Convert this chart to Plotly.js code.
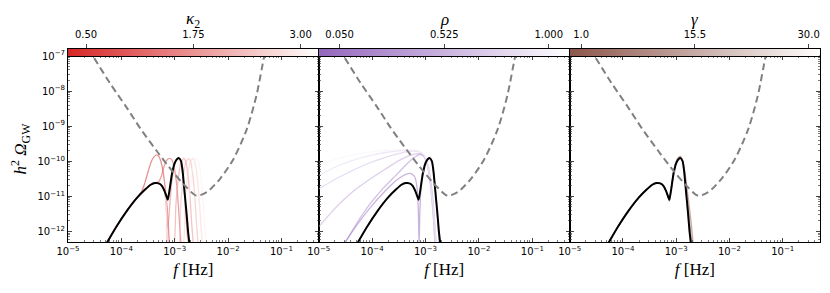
<!DOCTYPE html>
<html><head><meta charset="utf-8">
<script src="https://cdn.plot.ly/plotly-3.0.1.min.js"></script>
<style>html,body{margin:0;padding:0;background:#fff}#chart{width:830px;height:293px}</style>
</head><body><div id="chart"></div><script>
// ---------- data (log10 values) ----------
// dashed sensitivity curve
const sensLogF = [-4.62, -4.53, -4.22, -3.90, -3.655, -3.34, -3.03, -2.78, -2.59, -2.40, -2.15, -1.90, -1.65, -1.47, -1.32, -1.29];
const sensLogO = [-6.80, -7.01, -7.76, -8.47, -9.04, -9.70, -10.31, -10.74, -10.98, -10.88, -10.50, -9.94, -9.09, -8.14, -7.00, -6.85];

// black reference spectrum
const blackLogF = [-4.30, -4.10, -3.90, -3.70, -3.55, -3.45, -3.37, -3.30, -3.24, -3.19, -3.15, -3.13, -3.10, -3.05, -3.00, -2.95, -2.92, -2.88, -2.85, -2.82, -2.78, -2.75, -2.72];
const blackLogO = [-12.40, -11.88, -11.42, -11.03, -10.80, -10.67, -10.62, -10.63, -10.70, -10.85, -11.02, -11.10, -10.85, -10.35, -10.05, -9.93, -9.91, -10.00, -10.30, -10.80, -11.45, -12.00, -12.40];

// kappa2 curves
const kappaVals = [0.50, 0.917, 1.333, 1.75, 2.167, 2.583, 3.00];
const kappaLogF = [
  [-4.30, -4.10, -3.90, -3.70, -3.62, -3.56, -3.50, -3.43, -3.38, -3.34, -3.29, -3.24, -3.19, -3.15, -3.12, -3.10],
  [-4.30, -4.10, -3.90, -3.70, -3.55, -3.45, -3.37, -3.30, -3.25, -3.20, -3.15, -3.10, -3.05, -3.00, -2.96, -2.93, -2.90, -2.88],
  [-4.30, -4.10, -3.90, -3.70, -3.55, -3.45, -3.37, -3.30, -3.24, -3.19, -3.15, -3.13, -3.11, -3.06, -3.00, -2.95, -2.91, -2.87, -2.83, -2.80, -2.77, -2.75],
  [-4.30, -4.10, -3.90, -3.70, -3.55, -3.45, -3.37, -3.30, -3.24, -3.19, -3.15, -3.13, -3.02, -2.98, -2.93, -2.88, -2.83, -2.79, -2.75, -2.71, -2.68, -2.65],
  [-4.30, -4.10, -3.90, -3.70, -3.55, -3.45, -3.37, -3.30, -3.24, -3.19, -3.15, -3.13, -2.93, -2.89, -2.84, -2.79, -2.74, -2.70, -2.66, -2.62, -2.59, -2.56],
  [-4.30, -4.10, -3.90, -3.70, -3.55, -3.45, -3.37, -3.30, -3.24, -3.19, -3.15, -3.13, -2.85, -2.81, -2.76, -2.71, -2.66, -2.62, -2.58, -2.54, -2.51, -2.48],
  [-4.30, -4.10, -3.90, -3.70, -3.55, -3.45, -3.37, -3.30, -3.24, -3.19, -3.15, -3.13, -2.78, -2.74, -2.69, -2.64, -2.59, -2.55, -2.51, -2.47, -2.44, -2.41]
];
const kappaLogO = [
  [-12.40, -11.88, -11.42, -11.03, -10.86, -10.62, -10.30, -9.98, -9.86, -9.82, -9.88, -10.12, -10.60, -11.20, -11.80, -12.40],
  [-12.40, -11.88, -11.42, -11.03, -10.80, -10.67, -10.62, -10.58, -10.42, -10.15, -9.97, -9.92, -9.97, -10.25, -10.70, -11.30, -12.00, -12.40],
  [-12.40, -11.88, -11.42, -11.03, -10.80, -10.67, -10.62, -10.63, -10.70, -10.85, -11.30, -11.90, -11.60, -10.65, -10.10, -9.93, -9.93, -10.15, -10.65, -11.30, -12.00, -12.40],
  [-12.40, -11.88, -11.42, -11.03, -10.80, -10.67, -10.62, -10.63, -10.70, -10.85, -11.50, -12.40, -12.40, -11.30, -10.45, -10.02, -9.92, -10.02, -10.40, -11.10, -11.80, -12.40],
  [-12.40, -11.88, -11.42, -11.03, -10.80, -10.67, -10.62, -10.63, -10.70, -10.85, -11.50, -12.40, -12.40, -11.30, -10.45, -10.02, -9.92, -10.02, -10.40, -11.10, -11.80, -12.40],
  [-12.40, -11.88, -11.42, -11.03, -10.80, -10.67, -10.62, -10.63, -10.70, -10.85, -11.50, -12.40, -12.40, -11.30, -10.45, -10.02, -9.92, -10.02, -10.40, -11.10, -11.80, -12.40],
  [-12.40, -11.88, -11.42, -11.03, -10.80, -10.67, -10.62, -10.63, -10.70, -10.85, -11.50, -12.40, -12.40, -11.30, -10.45, -10.02, -9.92, -10.02, -10.40, -11.10, -11.80, -12.40]
];

// rho curves
const rhoVals = [0.05, 0.24, 0.43, 0.62, 0.81, 1.00];
const rhoLogF = [
  [-4.55, -4.30, -4.05, -3.80, -3.55, -3.38, -3.27, -3.20, -3.16, -3.135, -3.12, -3.105, -3.08, -3.03, -2.98, -2.93, -2.89, -2.85, -2.81, -2.77, -2.74],
  [-4.53, -4.30, -4.06, -3.80, -3.56, -3.35, -3.20, -3.10, -3.02, -2.95, -2.89, -2.84, -2.80],
  [-5.00, -4.70, -4.375, -4.05, -3.75, -3.50, -3.30, -3.15, -3.05, -2.97, -2.91, -2.86, -2.82],
  [-5.00, -4.70, -4.375, -4.05, -3.75, -3.50, -3.30, -3.15, -3.05, -2.97, -2.91, -2.86, -2.82],
  [-5.00, -4.70, -4.375, -4.05, -3.75, -3.50, -3.30, -3.15, -3.05, -2.97, -2.91, -2.86, -2.81],
  [-5.00, -4.70, -4.375, -4.05, -3.75, -3.50, -3.30, -3.15, -3.05, -2.97, -2.91, -2.85, -2.80]
];
const rhoLogO = [
  [-12.40, -11.85, -11.35, -10.92, -10.55, -10.38, -10.35, -10.45, -10.75, -11.40, -12.40, -11.40, -10.65, -10.15, -9.95, -9.90, -10.00, -10.30, -10.90, -11.70, -12.40],
  [-12.40, -11.80, -11.26, -10.78, -10.41, -10.08, -9.88, -9.80, -9.86, -10.15, -10.70, -11.50, -12.40],
  [-11.87, -11.35, -10.88, -10.52, -10.22, -9.98, -9.84, -9.78, -9.83, -10.10, -10.65, -11.45, -12.40],
  [-10.79, -10.52, -10.27, -10.05, -9.89, -9.78, -9.71, -9.72, -9.80, -10.08, -10.62, -11.42, -12.40],
  [-10.41, -10.17, -9.98, -9.84, -9.75, -9.70, -9.69, -9.71, -9.79, -10.06, -10.60, -11.40, -12.40],
  [-10.10, -9.95, -9.82, -9.74, -9.69, -9.67, -9.68, -9.71, -9.78, -10.05, -10.58, -11.38, -12.40]
];

// gamma curves
const gammaVals = [1.0, 6.8, 12.6, 18.4, 24.2, 30.0];
const gammaLogF = [
  [-4.30, -4.10, -3.90, -3.70, -3.55, -3.45, -3.37, -3.30, -3.24, -3.19, -3.15, -3.13, -3.10, -3.05, -3.00, -2.95, -2.92, -2.87, -2.82, -2.77, -2.72, -2.68],
  [-4.30, -4.10, -3.90, -3.70, -3.55, -3.45, -3.37, -3.30, -3.24, -3.19, -3.15, -3.13, -3.10, -3.05, -3.00, -2.95, -2.92, -2.88, -2.83, -2.78, -2.74, -2.70],
  [-4.30, -4.10, -3.90, -3.70, -3.55, -3.45, -3.37, -3.30, -3.24, -3.19, -3.15, -3.13, -3.10, -3.05, -3.00, -2.95, -2.92, -2.88, -2.84, -2.80, -2.76, -2.72],
  [-4.30, -4.10, -3.90, -3.70, -3.55, -3.45, -3.37, -3.30, -3.24, -3.19, -3.15, -3.13, -3.10, -3.05, -3.00, -2.95, -2.92, -2.88, -2.84, -2.80, -2.76, -2.72],
  [-4.30, -4.10, -3.90, -3.70, -3.55, -3.45, -3.37, -3.30, -3.24, -3.19, -3.15, -3.13, -3.10, -3.05, -3.00, -2.95, -2.92, -2.88, -2.85, -2.81, -2.77, -2.73],
  [-4.30, -4.10, -3.90, -3.70, -3.55, -3.45, -3.37, -3.30, -3.24, -3.19, -3.15, -3.13, -3.10, -3.05, -3.00, -2.95, -2.92, -2.88, -2.85, -2.81, -2.77, -2.73]
];
const gammaLogO = [
  [-12.40, -11.88, -11.42, -11.03, -10.80, -10.67, -10.62, -10.63, -10.70, -10.85, -11.02, -11.14, -10.85, -10.32, -10.00, -9.88, -9.86, -10.05, -10.50, -11.10, -11.75, -12.40],
  [-12.40, -11.88, -11.42, -11.03, -10.80, -10.67, -10.62, -10.63, -10.70, -10.85, -11.02, -11.13, -10.85, -10.33, -10.02, -9.90, -9.88, -10.00, -10.50, -11.20, -11.85, -12.40],
  [-12.40, -11.88, -11.42, -11.03, -10.80, -10.67, -10.62, -10.63, -10.70, -10.85, -11.02, -11.12, -10.85, -10.34, -10.03, -9.91, -9.89, -10.00, -10.45, -11.10, -11.80, -12.40],
  [-12.40, -11.88, -11.42, -11.03, -10.80, -10.67, -10.62, -10.63, -10.70, -10.85, -11.02, -11.11, -10.85, -10.35, -10.04, -9.92, -9.90, -10.00, -10.45, -11.10, -11.80, -12.40],
  [-12.40, -11.88, -11.42, -11.03, -10.80, -10.67, -10.62, -10.63, -10.70, -10.85, -11.02, -11.10, -10.85, -10.35, -10.05, -9.93, -9.91, -10.00, -10.35, -10.95, -11.65, -12.40],
  [-12.40, -11.88, -11.42, -11.03, -10.80, -10.67, -10.62, -10.63, -10.70, -10.85, -11.02, -11.10, -10.85, -10.35, -10.05, -9.93, -9.91, -10.00, -10.35, -10.95, -11.65, -12.40]
];

// colorbar settings (tick labels and extents)
const kappaTicks = [0.50, 1.75, 3.00], kappaTickText = ['0.50', '1.75', '3.00'], kappaRange = [0.29, 3.21];
const rhoTicks = [0.05, 0.525, 1.0], rhoTickText = ['0.050', '0.525', '1.000'], rhoRange = [-0.045, 1.095];
const gammaTicks = [1.0, 15.5, 30.0], gammaTickText = ['1.0', '15.5', '30.0'], gammaRange = [-0.45, 31.45];
const cbTitles = ['<i>κ</i><sub>2</sub>', '<i>ρ</i>', '<i>γ</i>'];

const xTickVals = [1e-5, 1e-4, 1e-3, 1e-2, 1e-1];
const xTickText = ['10<sup>−5</sup>', '10<sup>−4</sup>', '10<sup>−3</sup>', '10<sup>−2</sup>', '10<sup>−1</sup>'];
const yTickVals = [1e-12, 1e-11, 1e-10, 1e-9, 1e-8, 1e-7];
const yTickText = ['10<sup>−12</sup>', '10<sup>−11</sup>', '10<sup>−10</sup>', '10<sup>−9</sup>', '10<sup>−8</sup>', '10<sup>−7</sup>'];

// ---------- build ----------
const pow10 = a => a.map(v => Math.pow(10, v));
const RED = [214, 39, 40], PURPLE = [148, 103, 189], BROWN = [140, 86, 75];
function cmap(base, v, range) {
  const t = Math.min(1, Math.max(0, (v - range[0]) / (range[1] - range[0])));
  const c = base.map(b => Math.round(b + (255 - b) * t));
  return `rgb(${c[0]},${c[1]},${c[2]})`;
}
function cscale(base) { return [[0, `rgb(${base.join(',')})`], [1, 'rgb(255,255,255)']]; }

const traces = [];
const panels = [
  {xa: 'x', ya: 'y', vals: kappaVals, lf: kappaLogF, lo: kappaLogO, base: RED, range: kappaRange, op: 0.55},
  {xa: 'x2', ya: 'y2', vals: rhoVals, lf: rhoLogF, lo: rhoLogO, base: PURPLE, range: rhoRange, op: 0.55},
  {xa: 'x3', ya: 'y3', vals: gammaVals, lf: gammaLogF, lo: gammaLogO, base: BROWN, range: gammaRange, op: 0.5}
];
panels.forEach(p => {
  p.vals.forEach((v, i) => {
    traces.push({x: pow10(p.lf[i]), y: pow10(p.lo[i]), xaxis: p.xa, yaxis: p.ya, mode: 'lines',
      line: {color: cmap(p.base, v, p.range), width: 1.3, shape: 'spline', smoothing: 0.5}, opacity: p.op,
      hoverinfo: 'skip', showlegend: false});
  });
  traces.push({x: pow10(blackLogF), y: pow10(blackLogO), xaxis: p.xa, yaxis: p.ya, mode: 'lines',
    line: {color: 'black', width: 2, shape: 'spline', smoothing: 0.5}, showlegend: false});
  traces.push({x: pow10(sensLogF), y: pow10(sensLogO), xaxis: p.xa, yaxis: p.ya, mode: 'lines',
    line: {color: 'rgb(128,128,128)', width: 2, dash: '7px,4px', shape: 'spline', smoothing: 0.8}, showlegend: false});
});
// colorbars as heatmaps
const cbStops = [[0, 1]];
[[kappaRange, RED, 'x4', 'y4'], [rhoRange, PURPLE, 'x5', 'y5'], [gammaRange, BROWN, 'x6', 'y6']].forEach(c => {
  traces.push({type: 'heatmap', x: c[0], y: [0], z: cbStops, zmin: 0, zmax: 1, zsmooth: 'best',
    colorscale: cscale(c[1]), showscale: false, xaxis: c[2], yaxis: c[3], hoverinfo: 'skip'});
});

const W = 752, yTop = 1 - 7 / 193;
const doms = [[0, 250.7 / W], [250.7 / W, 501.7 / W], [501.7 / W, 1]];
const axFont = {family: 'DejaVu Sans, sans-serif', size: 10, color: 'black'};
const mathFont = {family: 'Liberation Serif, serif', size: 17, color: 'black'};
function xax(i, anchor) {
  return {domain: doms[i], anchor: anchor, type: 'log', range: [-5, Math.log10(0.5)],
    tickmode: 'array', tickvals: xTickVals, ticktext: xTickText, ticks: 'inside', ticklen: 4, tickwidth: 1,
    minor: {ticks: 'inside', ticklen: 2, tickwidth: 0.7, dtick: 'D1', showgrid: false},
    showline: true, linecolor: 'black', linewidth: 1, mirror: 'allticks', showgrid: false, zeroline: false,
    tickfont: axFont,
    title: {text: '<i>f</i> [Hz]', font: mathFont, standoff: 7}};
}
function yax(i, anchor, labels) {
  const a = {domain: [0, yTop], anchor: anchor, type: 'log', range: [Math.log10(5e-13), -7],
    tickmode: 'array', tickvals: yTickVals, ticktext: yTickText, ticks: 'inside', ticklen: 4, tickwidth: 1,
    minor: {ticks: 'inside', ticklen: 2, tickwidth: 0.7, dtick: 'D1', showgrid: false},
    showline: true, linecolor: 'black', linewidth: 1, mirror: 'allticks', showgrid: false, zeroline: false,
    showticklabels: labels, tickfont: axFont};
  if (labels) a.title = {text: '<i>h</i><sup>2</sup> <i>Ω</i><sub>GW</sub>', font: mathFont, standoff: 6};
  return a;
}
function cbx(i, anchor, range, tv, tt) {
  return {domain: doms[i], anchor: anchor, range: range, side: 'top', tickmode: 'array', tickvals: tv, ticktext: tt,
    ticks: 'outside', ticklen: 4, tickwidth: 1, ticklabelstandoff: 2, showline: true, linecolor: 'black', linewidth: 1, mirror: true,
    showgrid: false, zeroline: false, tickfont: axFont, fixedrange: true};
}
function cby(anchor) {
  return {domain: [yTop, 1], anchor: anchor, range: [-0.5, 0.5], showticklabels: false, ticks: '', showline: true,
    linecolor: 'black', linewidth: 1, mirror: true, showgrid: false, zeroline: false, fixedrange: true};
}
const annotations = cbTitles.map((t, i) => ({text: t, xref: 'paper', yref: 'paper',
  x: (doms[i][0] + doms[i][1]) / 2, y: 1 + 29 / 193, xanchor: 'center', yanchor: 'middle',
  showarrow: false, font: mathFont}));
const layout = {
  width: 830, height: 293, margin: {l: 68, r: 10, t: 49, b: 51}, paper_bgcolor: 'white', plot_bgcolor: 'rgba(0,0,0,0)',
  showlegend: false, annotations: annotations,
  xaxis: xax(0, 'y'), yaxis: yax(0, 'x', true),
  xaxis2: xax(1, 'y2'), yaxis2: yax(1, 'x2', false),
  xaxis3: xax(2, 'y3'), yaxis3: yax(2, 'x3', false),
  xaxis4: cbx(0, 'y4', kappaRange, kappaTicks, kappaTickText), yaxis4: cby('x4'),
  xaxis5: cbx(1, 'y5', rhoRange, rhoTicks, rhoTickText), yaxis5: cby('x5'),
  xaxis6: cbx(2, 'y6', gammaRange, gammaTicks, gammaTickText), yaxis6: cby('x6')
};
Plotly.newPlot('chart', traces, layout, {displayModeBar: false, staticPlot: true});
</script></body></html>
